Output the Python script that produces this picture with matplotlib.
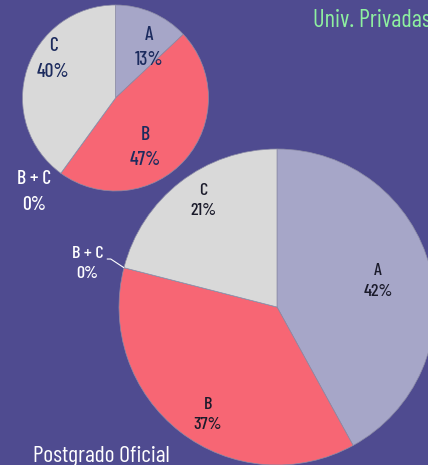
"""
Two pies on a purple field: Univ. Privadas (small, top-left) and
Postgrado Oficial (large, bottom-right).
"""

import matplotlib
matplotlib.use("Agg")
import matplotlib.pyplot as plt
import numpy as np

# Data
categories = ["A", "B", "B+C", "C"]
privadas_pct = [13, 47, 0, 40]
oficial_pct = [42, 37, 0, 21]

# Style
BG = "#4f4b90"
COLORS = ["#a6a6c8", "#f76674", "#d9d9d9", "#d9d9d9"]
EDGE = "#8c8ca6"
FONT = ["Barlow Condensed", "DejaVu Sans"]
plt.rcParams["font.family"] = FONT

W, H = 428, 465
fig = plt.figure(figsize=(W / 100, H / 100), dpi=100, facecolor=BG)
ax = fig.add_axes([0, 0, 1, 1])
ax.set_facecolor(BG)


def mid_angles(values):
    """Mid angle (deg) of each wedge, start at 12 o'clock, clockwise."""
    vals = np.asarray(values, dtype=float)
    before = np.cumsum(vals) - vals
    return 90 - 360 * (before + vals / 2) / vals.sum()


def draw_pie(values, center, radius, label_pos, text_color, fs, ls):
    ax.pie(values, colors=COLORS, startangle=90, counterclock=False,
           center=center, radius=radius, frame=True,
           wedgeprops=dict(edgecolor=EDGE, linewidth=0.5))
    angles = mid_angles(values)
    for cat, v, ang, (frac, dang, col) in zip(categories, values, angles, label_pos):
        a = np.deg2rad(ang + dang)
        x = center[0] + frac * radius * np.cos(a)
        y = center[1] + frac * radius * np.sin(a)
        label = cat.replace("+", " + ")
        ax.text(x, y, f"{label}\n{v}%", ha="center", va="center",
                fontsize=fs, color=col or text_color, linespacing=ls,
                fontweight="medium")
    return angles


# Small pie (Univ. Privadas)
small_c, small_r = (115.5, H - 98), 93
draw_pie(privadas_pct, small_c, small_r,
         [(0.65, -10, None), (0.62, -18, None), (1.34, -5, "white"),
          (0.79, -14, None)],
         "#1c2b5e", 14, 1.55)

# Large pie (Postgrado Oficial)
big_c, big_r = (277, H - 307), 158
ang = draw_pie(oficial_pct, big_c, big_r,
               [(0.66, 0, None), (0.81, 5, None), (1.23, 1.4, "white"),
                (0.82, -3, None)],
               "#1b1b2b", 13, 1.45)

# leader line for the empty B+C slice of the large pie
a0 = np.deg2rad(ang[2])
a1 = np.deg2rad(ang[2] - 1.7)
p0 = (big_c[0] + big_r * np.cos(a0), big_c[1] + big_r * np.sin(a0))
p1 = (big_c[0] + 1.095 * big_r * np.cos(a1), big_c[1] + 1.095 * big_r * np.sin(a1))
ax.plot([p0[0], p1[0], p1[0] - 4], [p0[1], p1[1], p1[1]],
        color="white", lw=0.8, solid_capstyle="butt")

# Corner titles
ax.text(313, H - 27, "Univ. Privadas", ha="left", va="baseline",
        fontsize=17.5, color="#8ef0a0")
ax.text(33, H - 462, "Postgrado Oficial", ha="left", va="baseline",
        fontsize=17, color="white")

ax.set_xlim(0, W)
ax.set_ylim(0, H)
ax.set_aspect("equal")
ax.axis("off")

fig.savefig("out.png", dpi=100, facecolor=BG)
